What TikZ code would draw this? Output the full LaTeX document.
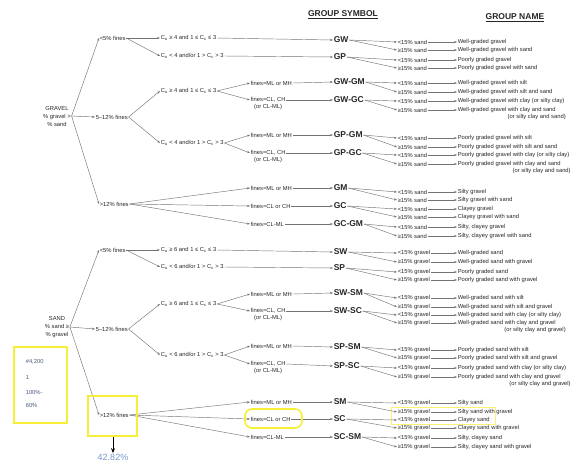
\documentclass[tikz,border=0pt]{standalone}
\usepackage{fontspec}
\setmainfont{Liberation Sans}
\usetikzlibrary{arrows.meta,positioning}
\definecolor{hlyellow}{RGB}{245,240,55}
\definecolor{noteblue}{RGB}{120,150,205}
\begin{document}
\begin{tikzpicture}[x=1pt,y=-1pt,
  >={Stealth[length=3pt,width=2.2pt]},
  conn/.style={->,draw=black!55,line width=0.45pt},
  txt/.style={anchor=west,inner sep=0.6pt,text=black!85,font=\fontsize{5.8}{6.5}\selectfont},
  root/.style={align=center,inner sep=0.6pt,text=black!85,font=\fontsize{5.8}{8}\selectfont},
  sym/.style={anchor=west,inner sep=0.6pt,text=black!85,font=\bfseries\fontsize{8.5}{9}\selectfont},
  head/.style={inner sep=0pt,text=black!85,font=\bfseries\fontsize{8.5}{9}\selectfont},
  hl/.style={draw=hlyellow,line width=2.4pt}]
 \useasboundingbox (0,0) rectangle (571,464);
 % Yellow mark behind the names
 \draw[draw=hlyellow!70,line width=1pt] (391,407) rectangle (495,424.5);
 % Headers
 \node[head] (hsym) at (343,15) {\underline{GROUP SYMBOL}};
 \node[head] (hname) at (515,18) {\underline{GROUP NAME}};
 % Gravel
 \node[root] (gR) at (57,116) {GRAVEL\\\% gravel >\\\% sand};
 \node[txt] (g1) at (99,38) {<5\% fines};
 \node[txt] (g2) at (95,117) {5--12\% fines};
 \node[txt] (g3) at (99,204) {>12\% fines};
 \draw[conn] (gR.east) -- (g1.west);
 \draw[conn] (gR.east) -- (g2.west);
 \draw[conn] (gR.east) -- (g3.west);
 \node[txt] (g1a) at (160,38) {C\textsubscript{u} ≥ 4 and 1 ≤ C\textsubscript{c} ≤ 3};
 \node[txt] (g1b) at (160,56) {C\textsubscript{u} < 4 and/or 1 > C\textsubscript{c} > 3};
 \node[txt] (g2a) at (160,91) {C\textsubscript{u} ≥ 4 and 1 ≤ C\textsubscript{c} ≤ 3};
 \node[txt] (g2b) at (160,143) {C\textsubscript{u} < 4 and/or 1 > C\textsubscript{c} > 3};
 \draw[conn] (g1.east) -- (g1a.west);
 \draw[conn] (g1.east) -- (g1b.west);
 \draw[conn] (g2.east) -- (g2a.west);
 \draw[conn] (g2.east) -- (g2b.west);
 \node[txt] (g2a1) at (250,83) {fines=ML or MH};
 \node[txt] (g2a2) at (250,100) {fines=CL, CH};
 \node[txt,below=0pt of g2a2] (g2a3) {(or CL-ML)};
 \node[txt] (g2b1) at (250,135) {fines=ML or MH};
 \node[txt] (g2b2) at (250,153) {fines=CL, CH};
 \node[txt,below=0pt of g2b2] (g2b3) {(or CL-ML)};
 \node[txt] (g3a) at (250,188) {fines=ML or MH};
 \node[txt] (g3b) at (250,206) {fines=CL or CH};
 \node[txt] (g3c) at (250,224) {fines=CL-ML};
 \draw[conn] (g2a.east) -- (g2a1.west);
 \draw[conn] (g2a.east) -- (g2a2.west);
 \draw[conn] (g2b.east) -- (g2b1.west);
 \draw[conn] (g2b.east) -- (g2b2.west);
 \draw[conn] (g3.east) -- (g3a.west);
 \draw[conn] (g3.east) -- (g3b.west);
 \draw[conn] (g3.east) -- (g3c.west);
 \node[sym] (gw) at (333,40) {GW};
 \node[sym] (gp) at (333,57) {GP};
 \node[sym] (gwgm) at (333,82) {GW-GM};
 \node[sym] (gwgc) at (333,100) {GW-GC};
 \node[sym] (gpgm) at (333,135) {GP-GM};
 \node[sym] (gpgc) at (333,153) {GP-GC};
 \node[sym] (gm) at (333,188) {GM};
 \node[sym] (gc) at (333,206) {GC};
 \node[sym] (gcgm) at (333,224) {GC-GM};
 \draw[conn] (g1a.east) -- (gw.west);
 \draw[conn] (g1b.east) -- (gp.west);
 \draw[conn] (g2a1.east) -- (gwgm.west);
 \draw[conn] (g2a2.east) -- (gwgc.west);
 \draw[conn] (g2b1.east) -- (gpgm.west);
 \draw[conn] (g2b2.east) -- (gpgc.west);
 \draw[conn] (g3a.east) -- (gm.west);
 \draw[conn] (g3b.east) -- (gc.west);
 \draw[conn] (g3c.east) -- (gcgm.west);
 % Sand
 \node[root] (sR) at (57,327) {SAND\\\% sand ≥\\\% gravel};
 \node[txt] (s1) at (99,250) {<5\% fines};
 \node[txt] (s2) at (95,329) {5--12\% fines};
 \node[txt] (s3) at (99,415) {>12\% fines};
 \draw[conn] (sR.east) -- (s1.west);
 \draw[conn] (sR.east) -- (s2.west);
 \draw[conn] (sR.east) -- (s3.west);
 \node[txt] (s1a) at (160,250) {C\textsubscript{u} ≥ 6 and 1 ≤ C\textsubscript{c} ≤ 3};
 \node[txt] (s1b) at (160,267) {C\textsubscript{u} < 6 and/or 1 > C\textsubscript{c} > 3};
 \node[txt] (s2a) at (160,304) {C\textsubscript{u} ≥ 6 and 1 ≤ C\textsubscript{c} ≤ 3};
 \node[txt] (s2b) at (160,355) {C\textsubscript{u} < 6 and/or 1 > C\textsubscript{c} > 3};
 \draw[conn] (s1.east) -- (s1a.west);
 \draw[conn] (s1.east) -- (s1b.west);
 \draw[conn] (s2.east) -- (s2a.west);
 \draw[conn] (s2.east) -- (s2b.west);
 \node[txt] (s2a1) at (250,294) {fines=ML or MH};
 \node[txt] (s2a2) at (250,311) {fines=CL, CH};
 \node[txt,below=0pt of s2a2] (s2a3) {(or CL-ML)};
 \node[txt] (s2b1) at (250,346) {fines=ML or MH};
 \node[txt] (s2b2) at (250,364) {fines=CL, CH};
 \node[txt,below=0pt of s2b2] (s2b3) {(or CL-ML)};
 \node[txt] (s3a) at (250,402) {fines=ML or MH};
 \node[txt] (s3b) at (250,419) {fines=CL or CH};
 \node[txt] (s3c) at (250,437) {fines=CL-ML};
 \draw[conn] (s2a.east) -- (s2a1.west);
 \draw[conn] (s2a.east) -- (s2a2.west);
 \draw[conn] (s2b.east) -- (s2b1.west);
 \draw[conn] (s2b.east) -- (s2b2.west);
 \draw[conn] (s3.east) -- (s3a.west);
 \draw[conn] (s3.east) -- (s3b.west);
 \draw[conn] (s3.east) -- (s3c.west);
 \node[sym] (sw) at (333,252) {SW};
 \node[sym] (sp) at (333,268) {SP};
 \node[sym] (swsm) at (333,293) {SW-SM};
 \node[sym] (swsc) at (333,311) {SW-SC};
 \node[sym] (spsm) at (333,347) {SP-SM};
 \node[sym] (spsc) at (333,366) {SP-SC};
 \node[sym] (sm) at (333,402) {SM};
 \node[sym] (sc) at (333,419) {SC};
 \node[sym] (scsm) at (333,437) {SC-SM};
 \draw[conn] (s1a.east) -- (sw.west);
 \draw[conn] (s1b.east) -- (sp.west);
 \draw[conn] (s2a1.east) -- (swsm.west);
 \draw[conn] (s2a2.east) -- (swsc.west);
 \draw[conn] (s2b1.east) -- (spsm.west);
 \draw[conn] (s2b2.east) -- (spsc.west);
 \draw[conn] (s3a.east) -- (sm.west);
 \draw[conn] (s3b.east) -- (sc.west);
 \draw[conn] (s3c.east) -- (scsm.west);
 % Group names
 \foreach \s/\ya/\na/\yb/\nb/\m in {
   gw/42/{Well-graded gravel}/50/{Well-graded gravel with sand}/sand,
   gp/60/{Poorly graded gravel}/68/{Poorly graded gravel with sand}/sand,
   gwgm/83/{Well-graded gravel with silt}/92/{Well-graded gravel with silt and sand}/sand,
   gwgc/101/{Well-graded gravel with clay (or silty clay)}/110/{Well-graded gravel with clay and sand}/sand,
   gpgm/138/{Poorly graded gravel with silt}/147/{Poorly graded gravel with silt and sand}/sand,
   gpgc/155/{Poorly graded gravel with clay (or silty clay)}/164/{Poorly graded gravel with clay and sand}/sand,
   gm/192/{Silty gravel}/200/{Silty gravel with sand}/sand,
   gc/209/{Clayey gravel}/217/{Clayey gravel with sand}/sand,
   gcgm/227/{Silty, clayey gravel}/236/{Silty, clayey gravel with sand}/sand,
   sw/253/{Well-graded sand}/262/{Well-graded sand with gravel}/gravel,
   sp/272/{Poorly graded sand}/280/{Poorly graded sand with gravel}/gravel,
   swsm/298/{Well-graded sand with silt}/307/{Well-graded sand with silt and gravel}/gravel,
   swsc/315/{Well-graded sand with clay (or silty clay)}/323/{Well-graded sand with clay and gravel}/gravel,
   spsm/350/{Poorly graded sand with silt}/358/{Poorly graded sand with silt and gravel}/gravel,
   spsc/368/{Poorly graded sand with clay (or silty clay)}/377/{Poorly graded sand with clay and gravel}/gravel,
   sm/403/{Silty sand}/412/{Silty sand with gravel}/gravel,
   sc/420/{Clayey sand}/428/{Clayey sand with gravel}/gravel,
   scsm/438/{Silty, clayey sand}/447/{Silty, clayey sand with gravel}/gravel}{
   \node[txt] (\s1) at (397,\ya) {<15\% \m};
   \node[txt] (n\s1) at (457,\ya) {\na};
   \node[txt] (\s2) at (397,\yb) {≥15\% \m};
   \node[txt] (n\s2) at (457,\yb) {\nb};
   \draw[conn] (\s.east) -- (\s1.west);
   \draw[conn] (\s.east) -- (\s2.west);
   \draw[conn] (\s1.east) -- (n\s1.west);
   \draw[conn] (\s2.east) -- (n\s2.west);
 }
 \node[txt,anchor=north east] (gwgcx) at ([xshift=10pt]ngwgc2.south east) {(or silty clay and sand)};
 \node[txt,anchor=north east] (gpgcx) at ([xshift=10pt]ngpgc2.south east) {(or silty clay and sand)};
 \node[txt,anchor=north east] (swscx) at ([xshift=10pt]nswsc2.south east) {(or silty clay and gravel)};
 \node[txt,anchor=north east] (spscx) at ([xshift=10pt]nspsc2.south east) {(or silty clay and gravel)};
 % Yellow marks
 \draw[hl] (14,347) rectangle (67,423);
 \node[txt,text=noteblue!60!black] (r1) at (25,362) {\#4,200};
 \node[txt,text=noteblue!60!black] (r2) at (25,377) {1};
 \node[txt,text=noteblue!60!black] (r3) at (25,392) {100\%-};
 \node[txt,text=noteblue!60!black] (r4) at (25,405) {60\%};
 \draw[hl] (88,396) rectangle (137,436);
 \node[text=noteblue,font=\fontsize{9}{10}\selectfont,inner sep=0.5pt] (pct) at (113,457) {42.82\%};
 \coordinate (d0) at (113,437);
 \draw[-{Stealth[length=5pt,width=4pt]},line width=0.8pt] (d0) -- (pct.north);
 \draw[hl,line width=1.6pt,rounded corners=7pt] (245,409) rectangle (302,428);
\end{tikzpicture}
\end{document}
